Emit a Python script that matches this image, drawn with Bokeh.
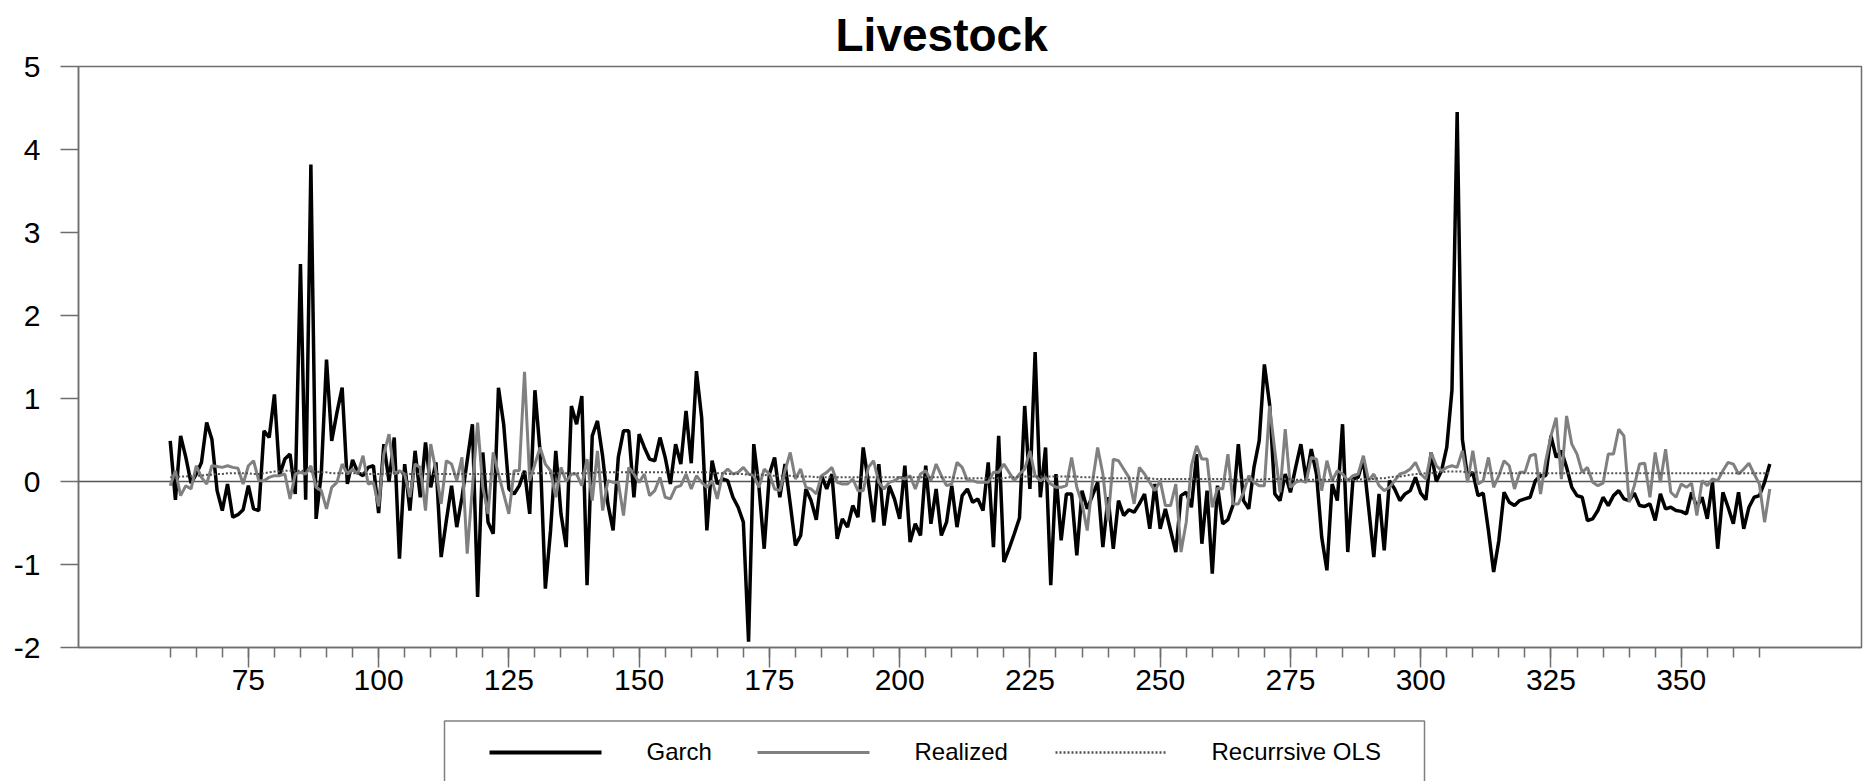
from bokeh.plotting import figure
from bokeh.models import Range1d, FixedTicker, Span
from bokeh.layouts import column
from bokeh.core.properties import value
from bokeh.embed import file_html
from bokeh.resources import INLINE

FONT = "Liberation Sans"

title_text = "Livestock"
series_names = ["Garch", "Realized", "Recurrsive OLS"]
series_colors = ["#000000", "#808080", "#505050"]

obs_start = 60
obs_end = 367

garch = [
    0.49, -0.22, 0.55, 0.29, -0.02, 0.09, 0.23, 0.71, 0.51, -0.11,
    -0.35, -0.03, -0.43, -0.40, -0.34, -0.05, -0.33, -0.35, 0.61, 0.53,
    1.05, 0.08, 0.27, 0.33, -0.15, 2.62, -0.22, 3.82, -0.45, 0.10,
    1.47, 0.49, 0.83, 1.13, -0.03, 0.26, 0.11, 0.07, 0.17, 0.19,
    -0.38, 0.45, 0.00, 0.53, -0.93, 0.21, -0.35, 0.37, -0.19, 0.47,
    -0.07, 0.23, -0.91, -0.47, -0.05, -0.55, -0.19, 0.25, 0.69, -1.39,
    0.35, -0.49, -0.63, 1.13, 0.69, -0.09, -0.15, -0.05, 0.13, -0.39,
    1.10, 0.35, -1.29, -0.59, 0.37, -0.39, -0.79, 0.91, 0.69, 1.03,
    -1.25, 0.55, 0.73, 0.30, -0.27, -0.59, 0.29, 0.61, 0.61, -0.19,
    0.57, 0.41, 0.27, 0.25, 0.53, 0.29, -0.03, 0.45, 0.21, 0.85,
    0.22, 1.33, 0.77, -0.59, 0.25, -0.03, 0.03, 0.01, -0.19, -0.31,
    -0.49, -1.93, 0.45, -0.07, -0.81, 0.09, 0.29, -0.19, 0.21, -0.27,
    -0.77, -0.65, -0.09, -0.23, -0.46, 0.07, -0.09, 0.09, -0.69, -0.45,
    -0.55, -0.29, -0.43, 0.41, -0.01, -0.49, 0.21, -0.53, -0.05, -0.21,
    -0.45, 0.19, -0.73, -0.51, -0.65, 0.19, -0.51, -0.09, -0.65, -0.49,
    -0.05, -0.55, -0.17, -0.09, -0.25, -0.21, -0.35, 0.23, -0.79, 0.55,
    -0.97, -0.81, -0.63, -0.44, 0.91, -0.09, 1.56, -0.19, 0.41, -1.25,
    0.09, -0.71, -0.15, -0.15, -0.89, -0.11, -0.33, -0.17, -0.01, -0.79,
    -0.19, -0.81, -0.23, -0.41, -0.34, -0.37, -0.27, -0.15, -0.57, -0.03,
    -0.57, -0.33, -0.59, -0.85, -0.17, -0.13, -0.31, 0.33, -0.75, -0.11,
    -1.11, -0.05, -0.51, -0.46, -0.28, 0.45, -0.23, -0.33, 0.17, 0.49,
    1.41, 0.93, -0.15, -0.23, 0.09, -0.13, 0.17, 0.45, 0.03, 0.39,
    0.09, -0.67, -1.07, -0.03, -0.23, 0.69, -0.85, 0.03, 0.05, 0.27,
    -0.31, -0.91, -0.15, -0.83, 0.01, -0.09, -0.23, -0.15, -0.11, 0.05,
    -0.14, -0.22, 0.35, 0.00, 0.13, 0.41, 1.10, 4.45, 0.51, 0.05,
    0.11, -0.17, -0.14, -0.59, -1.09, -0.71, -0.13, -0.25, -0.29, -0.23,
    -0.21, -0.19, 0.01, 0.07, 0.07, 0.55, 0.29, 0.37, 0.17, -0.07,
    -0.17, -0.19, -0.47, -0.45, -0.35, -0.19, -0.29, -0.17, -0.11, -0.21,
    -0.23, -0.14, -0.29, -0.30, -0.27, -0.47, -0.15, -0.33, -0.31, -0.35,
    -0.36, -0.39, -0.13, -0.31, -0.19, -0.45, -0.01, -0.81, -0.13, -0.31,
    -0.51, -0.13, -0.57, -0.31, -0.19, -0.17, -0.01, 0.21,
]

realized = [
    -0.05, 0.13, -0.17, -0.05, -0.09, 0.19, 0.05, -0.03, 0.19, 0.18,
    0.17, 0.19, 0.17, 0.16, -0.03, 0.19, 0.25, 0.01, 0.01, 0.05,
    0.07, 0.07, 0.09, -0.21, 0.09, 0.11, 0.09, 0.19, -0.07, -0.11,
    -0.33, -0.07, -0.01, 0.21, 0.09, 0.15, 0.09, 0.31, -0.03, -0.01,
    -0.30, 0.33, 0.57, 0.09, 0.13, 0.09, -0.19, 0.21, 0.17, -0.35,
    0.45, 0.13, -0.27, 0.25, 0.21, 0.01, 0.29, -0.87, -0.07, 0.71,
    -0.07, -0.39, 0.35, 0.09, -0.15, -0.39, 0.13, 0.13, 1.32, 0.01,
    0.21, 0.41, 0.21, 0.13, -0.19, 0.17, 0.00, 0.09, 0.09, -0.05,
    0.27, -0.23, 0.37, -0.35, 0.01, -0.01, -0.01, -0.41, 0.17, 0.09,
    -0.01, 0.09, -0.17, -0.11, 0.05, -0.19, -0.21, -0.07, -0.05, 0.09,
    -0.09, 0.07, -0.01, -0.07, 0.01, -0.21, 0.09, 0.15, 0.09, 0.11,
    0.17, 0.09, 0.07, -0.07, 0.15, 0.09, -0.09, -0.11, 0.13, 0.35,
    0.03, 0.15, -0.07, -0.09, -0.15, 0.07, 0.11, 0.17, -0.01, -0.03,
    -0.03, 0.03, -0.11, -0.11, 0.17, 0.25, -0.01, -0.09, -0.01, 0.01,
    0.05, 0.03, 0.07, -0.09, 0.09, 0.13, 0.01, 0.21, 0.07, -0.05,
    -0.03, 0.23, 0.17, 0.01, 0.01, -0.01, -0.01, -0.01, 0.11, 0.11,
    0.21, 0.11, 0.01, 0.09, 0.15, 0.37, 0.07, 0.01, 0.05, -0.03,
    -0.07, -0.07, -0.05, 0.29, -0.07, -0.27, -0.59, -0.01, 0.41, 0.09,
    -0.47, 0.27, 0.25, 0.15, 0.05, -0.27, 0.17, 0.09, -0.01, -0.11,
    0.01, -0.29, -0.29, -0.03, -0.85, -0.49, 0.19, 0.43, 0.27, 0.27,
    -0.31, -0.08, -0.09, 0.33, -0.27, -0.27, -0.13, 0.07, -0.01, -0.05,
    -0.05, 0.91, 0.37, -0.13, 0.63, -0.07, -0.01, 0.01, -0.01, 0.29,
    0.27, -0.11, 0.25, 0.01, 0.13, 0.09, 0.01, 0.07, 0.09, 0.31,
    0.01, 0.09, -0.05, -0.11, -0.07, 0.01, 0.09, 0.11, 0.15, 0.23,
    0.09, 0.03, 0.35, 0.19, 0.13, 0.17, 0.19, 0.17, 0.37, -0.01,
    0.37, -0.03, 0.01, 0.29, -0.07, 0.07, 0.25, 0.19, -0.09, 0.11,
    0.11, 0.31, 0.33, -0.15, 0.25, 0.55, 0.77, 0.03, 0.79, 0.45,
    0.33, 0.11, 0.17, -0.01, -0.05, -0.02, 0.33, 0.33, 0.63, 0.55,
    -0.25, -0.05, 0.21, 0.22, -0.19, 0.35, -0.01, 0.39, -0.13, -0.19,
    -0.03, -0.07, -0.02, -0.41, 0.01, -0.05, 0.03, 0.01, 0.13, 0.23,
    0.21, 0.09, 0.15, 0.22, 0.09, -0.03, -0.49, -0.09,
]

recursive_ols = [
    0.05, 0.05, 0.06, 0.06, 0.07, 0.07, 0.07, 0.08, 0.08, 0.09,
    0.09, 0.10, 0.10, 0.10, 0.10, 0.10, 0.09, 0.09, 0.10, 0.11,
    0.12, 0.12, 0.13, 0.13, 0.13, 0.13, 0.13, 0.12, 0.12, 0.11,
    0.11, 0.10, 0.10, 0.10, 0.10, 0.10, 0.10, 0.10, 0.09, 0.09,
    0.09, 0.09, 0.10, 0.10, 0.10, 0.09, 0.09, 0.09, 0.09, 0.09,
    0.09, 0.09, 0.09, 0.09, 0.09, 0.09, 0.09, 0.09, 0.09, 0.09,
    0.09, 0.09, 0.09, 0.09, 0.09, 0.09, 0.09, 0.09, 0.10, 0.10,
    0.10, 0.10, 0.10, 0.10, 0.10, 0.10, 0.10, 0.10, 0.10, 0.10,
    0.10, 0.10, 0.11, 0.11, 0.11, 0.11, 0.11, 0.11, 0.11, 0.11,
    0.11, 0.11, 0.11, 0.11, 0.11, 0.11, 0.11, 0.11, 0.11, 0.11,
    0.11, 0.11, 0.11, 0.11, 0.10, 0.10, 0.10, 0.09, 0.09, 0.09,
    0.09, 0.08, 0.08, 0.08, 0.08, 0.07, 0.07, 0.07, 0.07, 0.07,
    0.06, 0.06, 0.06, 0.06, 0.05, 0.05, 0.05, 0.05, 0.05, 0.05,
    0.05, 0.05, 0.05, 0.05, 0.05, 0.05, 0.05, 0.05, 0.05, 0.05,
    0.05, 0.05, 0.05, 0.05, 0.05, 0.05, 0.05, 0.05, 0.05, 0.05,
    0.05, 0.04, 0.04, 0.04, 0.04, 0.04, 0.04, 0.04, 0.04, 0.04,
    0.04, 0.05, 0.05, 0.06, 0.06, 0.06, 0.06, 0.06, 0.06, 0.06,
    0.06, 0.06, 0.06, 0.06, 0.06, 0.05, 0.05, 0.05, 0.05, 0.04,
    0.04, 0.04, 0.04, 0.04, 0.04, 0.04, 0.04, 0.04, 0.04, 0.03,
    0.03, 0.03, 0.03, 0.03, 0.03, 0.03, 0.03, 0.03, 0.03, 0.03,
    0.03, 0.03, 0.03, 0.03, 0.02, 0.02, 0.02, 0.02, 0.02, 0.02,
    0.03, 0.03, 0.03, 0.03, 0.03, 0.03, 0.02, 0.02, 0.02, 0.02,
    0.02, 0.02, 0.02, 0.02, 0.02, 0.02, 0.02, 0.02, 0.02, 0.03,
    0.03, 0.03, 0.04, 0.04, 0.05, 0.06, 0.06, 0.07, 0.08, 0.09,
    0.09, 0.10, 0.10, 0.11, 0.11, 0.12, 0.12, 0.12, 0.12, 0.11,
    0.11, 0.11, 0.10, 0.10, 0.10, 0.10, 0.10, 0.10, 0.10, 0.10,
    0.10, 0.10, 0.10, 0.10, 0.10, 0.10, 0.10, 0.10, 0.10, 0.10,
    0.10, 0.10, 0.10, 0.10, 0.10, 0.10, 0.10, 0.10, 0.10, 0.10,
    0.10, 0.10, 0.10, 0.10, 0.10, 0.10, 0.10, 0.10, 0.10, 0.10,
    0.10, 0.10, 0.10, 0.10, 0.10, 0.10, 0.10, 0.10, 0.10, 0.10,
    0.10, 0.10, 0.10, 0.10, 0.10, 0.10, 0.10, 0.10,
]

x_major = [75, 100, 125, 150, 175, 200, 225, 250, 275, 300, 325, 350]
x_minor = list(range(60, 366, 5))
y_ticks = [-2, -1, 0, 1, 2, 3, 4, 5]
y_tick_labels = {-2: "-2", -1: "-1"}

obs = list(range(obs_start, obs_end + 1))
assert len(obs) == len(garch) == len(realized) == len(recursive_ols), (
    len(obs), len(garch), len(realized), len(recursive_ols))

W = 1865
LEFT = 78
RIGHT = 4
AXIS_GRAY = "#6e6e6e"

# ---------------- main chart (page pixels 0..719) ----------------
p = figure(width=W, height=719, x_range=Range1d(42.4, 384.6), y_range=Range1d(-2, 5),
           output_backend="svg", toolbar_location=None,
           min_border_left=LEFT, min_border_right=RIGHT, min_border_top=65, min_border_bottom=72)
p.grid.visible = False
p.outline_line_color = AXIS_GRAY
p.outline_line_width = 1.5
p.background_fill_color = "white"

p.title.text = title_text
p.title.text_font = FONT
p.title.text_font_size = "46px"
p.title.text_font_style = "bold"
p.title.text_color = "#000000"
p.title.align = "left"
p.title.offset = 757
p.title.standoff = 12

p.add_layout(Span(location=0, dimension="width", line_color="#555555",
                  line_width=1.5, level="underlay"))

p.line(obs, garch, line_color=series_colors[0], line_width=3.5)
p.line(obs, realized, line_color=series_colors[1], line_width=3)
p.line(obs, recursive_ols, line_color=series_colors[2], line_width=2, line_dash="2 2")

p.xaxis.ticker = FixedTicker(ticks=x_major, minor_ticks=x_minor)
p.yaxis.ticker = FixedTicker(ticks=y_ticks)
p.yaxis.major_label_overrides = y_tick_labels
for ax in (p.xaxis[0], p.yaxis[0]):
    ax.axis_line_color = AXIS_GRAY
    ax.axis_line_width = 1.5
    ax.major_tick_line_color = AXIS_GRAY
    ax.major_tick_line_width = 1.5
    ax.major_tick_in = 0
    ax.minor_tick_in = 0
    ax.major_label_text_font = FONT
    ax.major_label_text_font_size = "30px"
    ax.major_label_text_color = "#000000"
p.xaxis.major_tick_out = 20
p.xaxis.minor_tick_out = 10
p.xaxis.minor_tick_line_color = AXIS_GRAY
p.xaxis.minor_tick_line_width = 1.5
p.xaxis.major_label_standoff = 2
p.yaxis.major_tick_out = 18
p.yaxis.minor_tick_line_color = None
p.yaxis.major_label_standoff = 20

# ---------------- legend strip (page pixels 719..781) ----------------
pl = figure(width=W, height=62,
            x_range=Range1d(LEFT, W - RIGHT), y_range=Range1d(781, 719),
            output_backend="svg", toolbar_location=None,
            min_border_left=LEFT, min_border_right=RIGHT,
            min_border_top=0, min_border_bottom=0, outline_line_color=None)
pl.axis.visible = False
pl.grid.visible = False
pl.quad(left=[444], right=[1424], top=[720.5], bottom=[800],
        fill_color=None, line_color="#808080", line_width=1.5)

sample_x0 = [489, 757, 1055]
label_x = [646, 914, 1211]
sample_w = 112
line_widths = [4, 3, 2.5]
dashes = ["solid", "solid", "2 2"]
for i, name in enumerate(series_names):
    pl.line([sample_x0[i], sample_x0[i] + sample_w], [752, 752],
            line_color=series_colors[i], line_width=line_widths[i], line_dash=dashes[i])
pl.text(x=label_x, y=[751, 751, 751], text=series_names, text_font=value(FONT),
        text_font_size="24px", text_align="left", text_baseline="middle",
        text_color="#000000")

layout = column(p, pl, spacing=0)
open("out.html", "w").write(file_html(layout, INLINE))
